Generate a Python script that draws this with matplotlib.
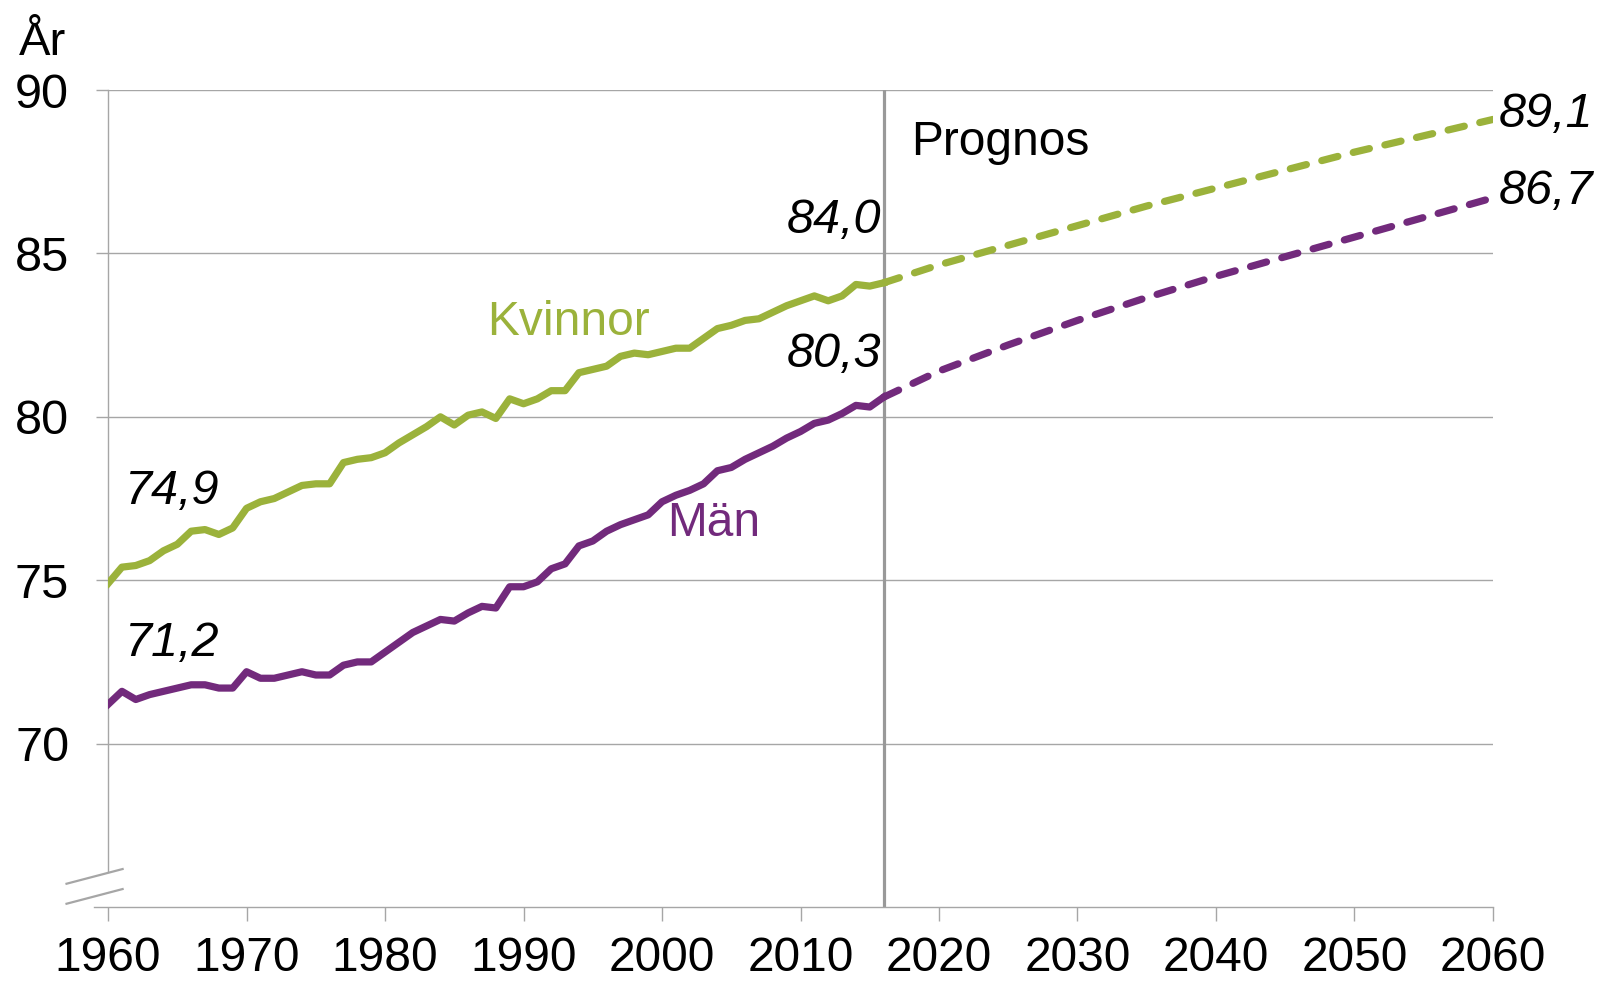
import matplotlib.pyplot as plt

plt.rcParams["font.family"] = ["Liberation Sans", "DejaVu Sans"]

# historical life expectancy at birth, 1960-2016
years = list(range(1960, 2017))
kvinnor = [74.9, 75.4, 75.45, 75.6, 75.9, 76.1, 76.5, 76.55, 76.4, 76.6,
           77.2, 77.4, 77.5, 77.7, 77.9, 77.95, 77.95, 78.6, 78.7, 78.75,
           78.9, 79.2, 79.45, 79.7, 80.0, 79.75, 80.05, 80.15, 79.95, 80.55,
           80.4, 80.55, 80.8, 80.8, 81.35, 81.45, 81.55, 81.85, 81.95, 81.9,
           82.0, 82.1, 82.1, 82.4, 82.7, 82.8, 82.95, 83.0, 83.2, 83.4,
           83.55, 83.7, 83.55, 83.7, 84.05, 84.0, 84.1]
man = [71.2, 71.6, 71.35, 71.5, 71.6, 71.7, 71.8, 71.8, 71.7, 71.7,
       72.2, 72.0, 72.0, 72.1, 72.2, 72.1, 72.1, 72.4, 72.5, 72.5,
       72.8, 73.1, 73.4, 73.6, 73.8, 73.75, 74.0, 74.2, 74.15, 74.8,
       74.8, 74.95, 75.35, 75.5, 76.05, 76.2, 76.5, 76.7, 76.85, 77.0,
       77.4, 77.6, 77.75, 77.95, 78.35, 78.45, 78.7, 78.9, 79.1, 79.35,
       79.55, 79.8, 79.9, 80.1, 80.35, 80.3, 80.6]

# prognosis 2016-2060
prog_years = [2016, 2020, 2025, 2030, 2035, 2040, 2045, 2050, 2055, 2060]
prog_kvinnor = [84.1, 84.65, 85.25, 85.85, 86.45, 87.0, 87.55, 88.1, 88.6, 89.1]
prog_man = [80.6, 81.4, 82.2, 82.95, 83.65, 84.3, 84.9, 85.5, 86.1, 86.7]

xticks = list(range(1960, 2061, 10))
yticks = [70, 75, 80, 85, 90]

green = "#9BB23B"
purple = "#722A7C"
grey = "#A6A6A6"

fig = plt.figure(figsize=(16.01, 9.86), dpi=100)
ax = fig.add_axes([0.0675, 0.0801, 0.865, 0.8286])

lw = 5.2
ax.plot(years, kvinnor, color=green, lw=lw, solid_joinstyle="round", zorder=3)
ax.plot(years, man, color=purple, lw=lw, solid_joinstyle="round", zorder=3)
ax.plot(prog_years, prog_kvinnor, color=green, lw=lw, ls=(0, (2.3, 2.2)),
        dash_capstyle="round", zorder=3)
ax.plot(prog_years, prog_man, color=purple, lw=lw, ls=(0, (2.3, 2.2)),
        dash_capstyle="round", zorder=3)

ax.axvline(2016, color="#999999", lw=2.3, zorder=2)

ax.set_xlim(1960, 2060)
ax.set_ylim(65, 90)
ax.set_xticks(xticks)
ax.set_yticks(yticks)
ax.grid(axis="y", color=grey, lw=1.0)
ax.set_axisbelow(True)

for s in ["top", "right"]:
    ax.spines[s].set_visible(False)
for s in ["left", "bottom"]:
    ax.spines[s].set_color(grey)
    ax.spines[s].set_linewidth(1.0)
ax.spines["left"].set_bounds(66.1, 90)
ax.spines["bottom"].set_bounds(1959, 2060)

ax.tick_params(axis="x", length=10, width=1.0, color=grey, labelsize=34.5, pad=11)
ax.tick_params(axis="y", length=9, width=1.0, color=grey, labelsize=35, pad=19)

# axis break marks
for y0 in [0.0, 0.0245]:
    ax.plot([-0.03, 0.0105], [y0 + 0.004, y0 + 0.022], transform=ax.transAxes,
            color=grey, lw=1.6, clip_on=False)

fig.text(0.0115, 1 - 55 / 986, "År", fontsize=34, va="baseline", ha="left")

lab = dict(fontsize=35, fontstyle="italic", va="center")
ax.text(1961.2, 77.7, "74,9", ha="left", **lab)
ax.text(1961.2, 73.05, "71,2", ha="left", **lab)
ax.text(2015.8, 86.0, "84,0", ha="right", **lab)
ax.text(2015.8, 81.9, "80,3", ha="right", **lab)
ax.text(2060.4, 89.25, "89,1", ha="left", clip_on=False, **lab)
ax.text(2060.4, 86.9, "86,7", ha="left", clip_on=False, **lab)

ax.text(1987.4, 82.9, "Kvinnor", color=green, fontsize=34.5, va="center")
ax.text(2000.4, 76.75, "Män", color=purple, fontsize=34.5, va="center")
ax.text(2018.0, 88.4, "Prognos", fontsize=34.5, va="center")

fig.savefig("out.png", dpi=100)
